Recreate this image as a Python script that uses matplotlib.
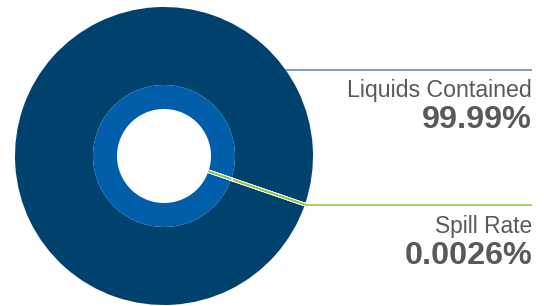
import numpy as np
import matplotlib.pyplot as plt
import matplotlib.patheffects as pe

# data
labels = ['Liquids Contained', 'Spill Rate']
values = [99.9974, 0.0026]
value_labels = ['99.99%', '0.0026%']

navy = '#00426e'
mid_blue = '#005eaa'
green = '#8cc63f'
line_blue = '#5282b0'
grey = '#58595b'

plt.rcParams['font.family'] = ['Liberation Sans', 'DejaVu Sans']

fig = plt.figure(figsize=(5.44, 3.06), dpi=100)
ax = fig.add_axes([0, 0, 1, 1])

cx, cy = 164, 156
r_out, r_mid, r_in = 149, 71, 47
spill_angle = 19.0

# spill wedge first, then liquids; y is flipped so positive angle is below
order = [values[1], values[0]]
halo = [pe.withStroke(linewidth=2.6, foreground='white')]

outer, _ = ax.pie(order, colors=[green, navy], radius=r_out, center=(cx, cy),
                  startangle=spill_angle, counterclock=True,
                  wedgeprops=dict(width=r_out - r_mid, linewidth=0))
inner, _ = ax.pie(order, colors=[green, mid_blue], radius=r_mid, center=(cx, cy),
                  startangle=spill_angle, counterclock=True,
                  wedgeprops=dict(width=r_mid - r_in, linewidth=0))

for w in (outer[0], inner[0]):
    w.set_edgecolor(green)
    w.set_linewidth(1.0)
    w.set_path_effects(halo)
    w.set_zorder(5)

# leader lines
th = np.deg2rad(outer[0].theta1)
sx, sy = cx + r_out * np.cos(th), cy + r_out * np.sin(th)
ax.plot([sx, 532], [sy, sy], color=green, lw=1.1, solid_capstyle='butt', zorder=6)

ly = 70
lx = cx + np.sqrt(r_out ** 2 - (cy - ly) ** 2)
ax.plot([lx - 1, 532], [ly, ly], color=line_blue, lw=1.1, solid_capstyle='butt', zorder=1)

# labels
ax.text(532, 96.5, labels[0], ha='right', va='baseline', fontsize=16.7, color=grey)
ax.text(532, 128, value_labels[0], ha='right', va='baseline', fontsize=23.3,
        fontweight='bold', color=grey)
ax.text(532, 233, labels[1], ha='right', va='baseline', fontsize=16.4, color=grey)
ax.text(532, 264, value_labels[1], ha='right', va='baseline', fontsize=23.3,
        fontweight='bold', color=grey)

ax.set_xlim(0, 544)
ax.set_ylim(306, 0)
ax.set_aspect('auto')
ax.axis('off')

fig.savefig('out.png', dpi=100)
